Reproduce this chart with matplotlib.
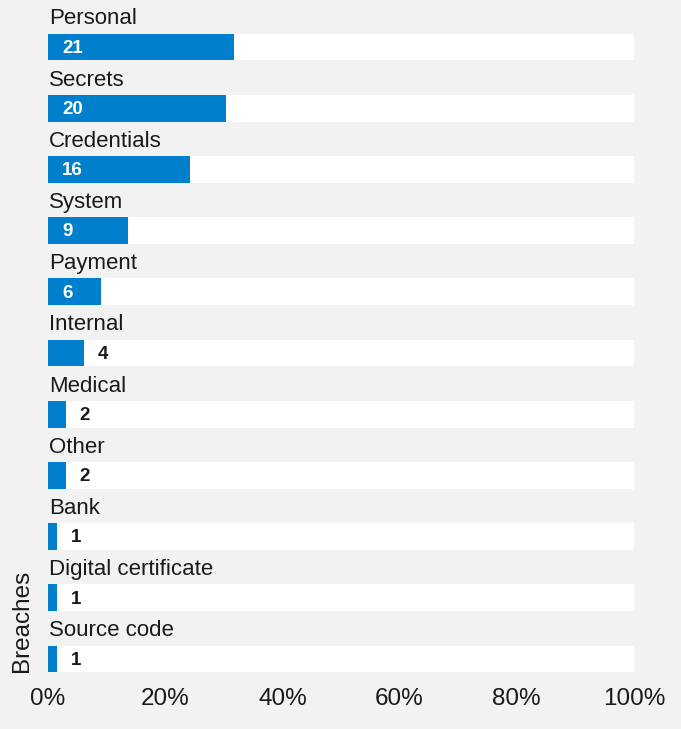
import matplotlib.pyplot as plt
from matplotlib.ticker import PercentFormatter

plt.rcParams["font.family"] = ["Liberation Sans", "DejaVu Sans"]

categories = ["Personal", "Secrets", "Credentials", "System", "Payment", "Internal",
              "Medical", "Other", "Bank", "Digital certificate", "Source code"]
counts = [21, 20, 16, 9, 6, 4, 2, 2, 1, 1, 1]
shares = [31.8, 30.3, 24.2, 13.6, 9.1, 6.1, 3.0, 3.0, 1.5, 1.5, 1.5]

BG = "#f2f2f2"
BLUE = "#0080cc"
TXT = "#1a1a1a"

fig = plt.figure(figsize=(6.81, 7.29), dpi=100, facecolor=BG)
ax = fig.add_axes([48 / 681, 49 / 729, 586 / 681, 680 / 729])
ax.set_facecolor(BG)

ys = list(range(len(categories)))
bar_h = 0.44
ax.barh(ys, [100] * len(ys), height=bar_h, color="white", linewidth=0)
ax.barh(ys, shares, height=bar_h, color=BLUE, linewidth=0)

px = 100 / 586  # one pixel in data units along x
for y, cat, n, s in zip(ys, categories, counts, shares):
    ax.text(0.2, y - 0.46, cat, ha="left", va="center", fontsize=16, color=TXT)
    if s >= 8:
        ax.text(14 * px, y + 0.02, str(n), ha="left", va="center", fontsize=13.5,
                fontweight="bold", color="white")
    else:
        ax.text(s + 14 * px, y + 0.02, str(n), ha="left", va="center", fontsize=13.5,
                fontweight="bold", color=TXT)

ax.set_xlim(0, 100)
ax.set_ylim(10.343, -0.768)
ax.set_yticks([])
ax.set_xticks([0, 20, 40, 60, 80, 100])
ax.xaxis.set_major_formatter(PercentFormatter(decimals=0))
ax.tick_params(axis="x", length=0, pad=6, labelsize=17.5, colors=TXT)
for sp in ax.spines.values():
    sp.set_visible(False)

fig.text(22 / 681, (729 - 672) / 729, "Breaches", rotation=90, ha="center", va="bottom",
         fontsize=17.5, color=TXT)

fig.savefig("out.png", dpi=100, facecolor=BG)
